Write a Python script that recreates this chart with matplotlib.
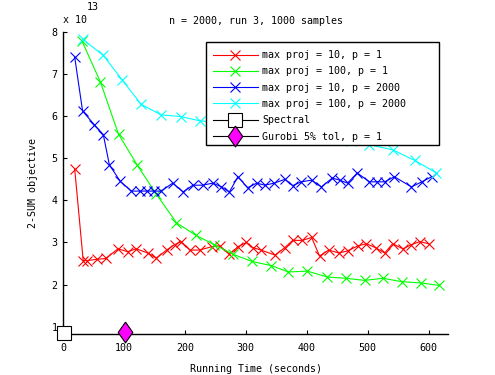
import numpy as np
import matplotlib
matplotlib.use('Agg')
import matplotlib.pyplot as plt
from matplotlib.patches import Rectangle

plt.rcParams['font.family'] = 'DejaVu Sans Mono'
plt.rcParams['font.size'] = 7.2

# running time (s) and 2-SUM objective (x 1e13) for each run
red_t = [19, 33, 40, 55, 70, 90, 106, 120, 139, 153, 170, 183, 194, 208, 224, 244, 257, 273, 287, 301,
         311, 325, 348, 364, 377, 393, 408, 421, 436, 453, 467, 484, 498, 514, 528, 541, 558, 572, 586, 600]
red_y = [4.75, 2.57, 2.57, 2.6, 2.62, 2.85, 2.78, 2.85, 2.75, 2.63, 2.82, 2.95, 3.02, 2.82, 2.82, 2.9, 2.92, 2.72, 2.9, 3.0,
         2.88, 2.82, 2.7, 2.88, 3.05, 3.05, 3.12, 2.68, 2.82, 2.75, 2.8, 2.92, 2.97, 2.87, 2.75, 2.97, 2.85, 2.95, 3.02, 2.97]

green_t = [31, 61, 91, 122, 153, 186, 218, 248, 279, 310, 342, 370, 401, 434, 464, 495, 525, 556, 587, 618]
green_y = [7.78, 6.82, 5.57, 4.83, 4.15, 3.47, 3.17, 2.95, 2.72, 2.55, 2.45, 2.3, 2.32, 2.18, 2.15, 2.1, 2.15, 2.07, 2.04, 1.98]

blue_t = [19, 32, 51, 66, 76, 94, 112, 126, 137, 150, 161, 180, 197, 213, 229, 246, 260, 273, 287, 303,
          318, 331, 347, 364, 377, 391, 408, 424, 442, 454, 467, 483, 503, 516, 528, 544, 572, 589, 605]
blue_y = [7.4, 6.12, 5.8, 5.56, 4.84, 4.45, 4.22, 4.22, 4.22, 4.22, 4.22, 4.41, 4.2, 4.36, 4.36, 4.41, 4.32, 4.2, 4.56, 4.3,
          4.41, 4.36, 4.41, 4.5, 4.35, 4.44, 4.48, 4.32, 4.53, 4.48, 4.41, 4.65, 4.44, 4.44, 4.44, 4.56, 4.32, 4.44, 4.56]

cyan_t = [32, 66, 97, 128, 161, 193, 224, 255, 286, 317, 348, 379, 410, 441, 472, 503, 541, 577, 612]
cyan_y = [7.83, 7.44, 6.86, 6.28, 6.03, 5.99, 5.89, 5.85, 5.8, 5.75, 5.7, 5.65, 5.58, 5.5, 5.42, 5.32, 5.2, 4.95, 4.66]

spectral_t = [1]
spectral_y = [0.85]
gurobi_t = [101]
gurobi_y = [0.88]

labels = ['max proj = 10, p = 1', 'max proj = 100, p = 1', 'max proj = 10, p = 2000',
          'max proj = 100, p = 2000', 'Spectral', 'Gurobi 5% tol, p = 1']

fig = plt.figure(figsize=(4.95, 3.75), dpi=100)
ax = fig.add_axes([0.1275, 0.1085, 0.9051 - 0.1275, 0.915 - 0.1085])

diamond = [(0, 1), (0.7, 0), (0, -1), (-0.7, 0), (0, 1)]

lw = 0.8
ax.plot(red_t, red_y, '-x', color='#ff0000', lw=lw, ms=7, mew=0.8, label=labels[0])
ax.plot(green_t, green_y, '-x', color='#00ff00', lw=lw, ms=7, mew=0.8, label=labels[1])
ax.plot(blue_t, blue_y, '-x', color='#0000ff', lw=lw, ms=7, mew=0.8, label=labels[2])
ax.plot(cyan_t, cyan_y, '-x', color='#00ffff', lw=lw, ms=7, mew=0.8, label=labels[3])
ax.plot(spectral_t, spectral_y, '-s', color='k', mfc='white', mec='k', lw=lw, ms=10, mew=0.8,
        label=labels[4], clip_on=False, zorder=5)
ax.plot(gurobi_t, gurobi_y, '-', marker=diamond, color='k', mfc='#ff00ff', mec='k', lw=lw, ms=15, mew=0.8,
        label=labels[5], clip_on=False, zorder=5)

ax.set_xlim(0, 632)
ax.set_ylim(0.82, 8.0)
ax.set_xticks([0, 100, 200, 300, 400, 500, 600])
ax.set_yticks([1, 2, 3, 4, 5, 6, 7, 8])
ax.spines['top'].set_visible(False)
ax.spines['right'].set_visible(False)
ax.spines['left'].set_linewidth(1.0)
ax.spines['bottom'].set_linewidth(1.0)
ax.tick_params(direction='in', length=3, width=0.8)
ax.tick_params(axis='x', pad=6)
ax.tick_params(axis='y', pad=4)

ax.set_title('n = 2000, run 3, 1000 samples', fontsize=7.2, pad=6)
ax.set_xlabel('Running Time (seconds)', labelpad=8)
ax.set_ylabel('2-SUM objective', labelpad=10)

fig.text(0.128, 0.946, 'x 10', fontsize=7.2, va='center')
fig.text(0.176, 0.981, '13', fontsize=7.2, va='center')

# legend box drawn separately (the original has wide right padding)
box = Rectangle((0.4156, 0.6133), 0.8875 - 0.4156, 0.8872 - 0.6133, transform=fig.transFigure,
                facecolor='white', edgecolor='k', linewidth=1.0, zorder=6, clip_on=False)
ax.add_patch(box)

leg = ax.legend(loc='upper left', bbox_to_anchor=(0.4303, 0.8665), bbox_transform=fig.transFigure,
                frameon=False, numpoints=1, handlelength=4.5, handletextpad=0.45,
                labelspacing=0.63, borderpad=0, borderaxespad=0)
leg.set_zorder(7)

fig.savefig('out.png', dpi=100)
